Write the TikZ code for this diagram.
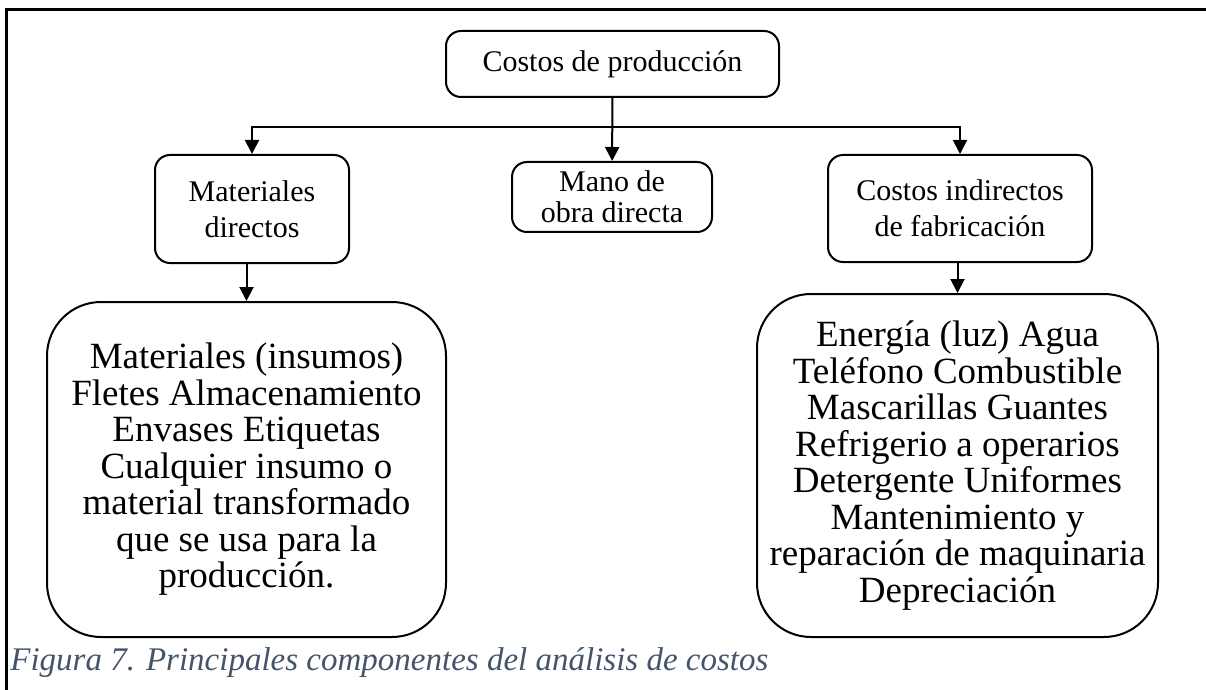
\documentclass[tikz,border=0pt]{standalone}
\usepackage{fontspec}
\setmainfont{Liberation Serif}
\usetikzlibrary{arrows.meta}
\definecolor{captionblue}{RGB}{68,84,106}
\begin{document}
\begin{tikzpicture}[x=0.5pt,y=-0.5pt,
        box/.style={draw,line width=1pt,rounded corners=7.5pt,align=center,inner sep=0pt,font=\fontsize{15}{18}\selectfont},
        bigbox/.style={draw,line width=1pt,rounded corners=27pt,align=center,inner sep=0pt,font=\fontsize{18.5}{18.25}\selectfont},
        arr/.style={line width=1pt,-{Triangle[length=7pt,width=7pt]}}]
    \useasboundingbox (0,0) rectangle (1206,690);
    \draw[line width=1.5pt] (1206,10) -- (6,10) -- (6,690);
    \node[box,minimum width=166.5pt,minimum height=33pt] (costos) at (612.5,64) {Costos de producción};
    \node[box,minimum width=97pt,minimum height=54pt] (mat) at (252,209) {Materiales\\directos};
    \node[box,minimum width=100pt,minimum height=35pt,font=\fontsize{15}{15.5}\selectfont] (mano) at (612,197) {Mano de\\obra directa};
    \node[box,minimum width=132pt,minimum height=53.5pt] (cif) at (960,208.5) {Costos indirectos\\de fabricación};
    \node[bigbox,minimum width=199.5pt,minimum height=167.5pt] (matlist) at (246.5,469.5)
        {Materiales (insumos)\\Fletes Almacenamiento\\Envases Etiquetas\\Cualquier insumo o\\material transformado\\que se usa para la\\producción.};
    \node[bigbox,minimum width=200.5pt,minimum height=171.5pt] (ciflist) at (957.5,465.5)
        {Energía (luz) Agua\\Teléfono Combustible\\Mascarillas Guantes\\Refrigerio a operarios\\Detergente Uniformes\\Mantenimiento y\\reparación de maquinaria\\Depreciación};
    \coordinate (bus) at (612.5,127);
    \draw[arr] (costos) -- (mano);
    \draw[arr] (bus) -| (mat);
    \draw[arr] (bus) -| (cif);
    \draw[arr] (mat.south -| matlist.north) -- (matlist.north);
    \draw[arr] (cif.south -| ciflist.north) -- (ciflist.north);
    \node[anchor=base west,inner sep=0pt,text=captionblue,font=\fontsize{16.5}{18}\selectfont\itshape] (caption) at (10,670)
        {Figura 7. Principales componentes del análisis de costos};
\end{tikzpicture}
\end{document}
